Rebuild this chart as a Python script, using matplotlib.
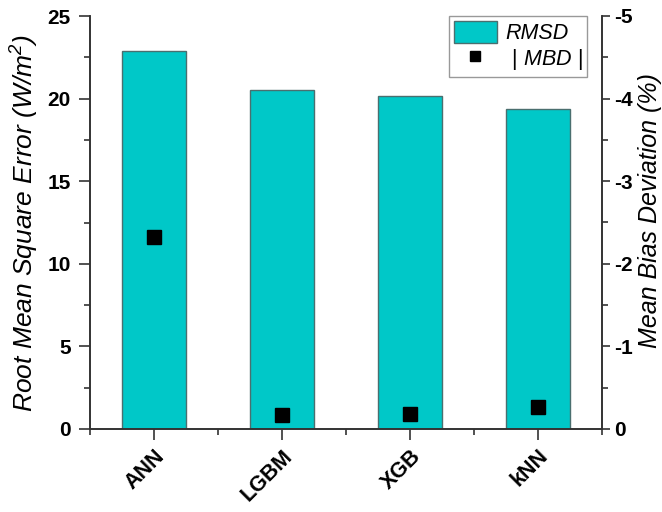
import numpy as np
import matplotlib

matplotlib.use("Agg")
import matplotlib.pyplot as plt
import matplotlib.patches as mpatches
import matplotlib.lines as mlines
from matplotlib.ticker import MultipleLocator

plt.rcParams.update(
    {
        "font.family": ["Liberation Sans", "DejaVu Sans"],
        "axes.unicode_minus": False,
        "axes.linewidth": 1.2,
        "mathtext.fontset": "custom",
        "mathtext.rm": "Liberation Sans",
        "mathtext.it": "Liberation Sans:italic",
    }
)

# ---------------------------------------------------------------------------
# Data
# ---------------------------------------------------------------------------
models = ["ANN", "LGBM", "XGB", "kNN"]
rmsd = [22.87, 20.5, 20.17, 19.37]  # W/m^2
mbd = [-2.33, -0.17, -0.18, -0.27]  # %

BAR_COLOR = "#00c8c8"
BAR_EDGE = "#4a6f6f"
AXIS_COLOR = "#333333"

fig = plt.figure(figsize=(6.62, 5.12), dpi=100)
ax = fig.add_axes([90 / 662, 1 - 429 / 512, 512 / 662, 413 / 512])
ax2 = ax.twinx()

x = np.arange(len(models))
ax.bar(x, rmsd, width=0.5, color=BAR_COLOR, edgecolor=BAR_EDGE, linewidth=1.0, zorder=2)
ax2.plot(x, mbd, ls="none", marker="s", ms=10.5, color="black", zorder=5)

# left axis
ax.set_xlim(-0.5, 3.5)
ax.set_ylim(0, 25)
ax.yaxis.set_major_locator(MultipleLocator(5))
ax.yaxis.set_minor_locator(MultipleLocator(2.5))
ax.set_xticks(x)
ax.set_xticklabels(models, rotation=45, ha="right", rotation_mode="anchor",
                   fontsize=15.5, fontweight="bold")
ax.xaxis.set_minor_locator(MultipleLocator(0.5))
ax.tick_params(axis="x", which="major", direction="out", length=8, width=1.2,
               colors=AXIS_COLOR, labelcolor="black", pad=4)
ax.tick_params(axis="x", which="minor", direction="out", length=4, width=1.2,
               colors=AXIS_COLOR)
ax.tick_params(axis="y", which="major", direction="out", length=8, width=1.2,
               colors=AXIS_COLOR, labelcolor="black", labelsize=15, pad=6)
ax.tick_params(axis="y", which="minor", direction="out", length=4, width=1.2,
               colors=AXIS_COLOR)
for lab in ax.get_yticklabels():
    lab.set_fontweight("bold")
ax.set_ylabel(r"Root Mean Square Error (W/m$^{\mathregular{2}}$)", fontsize=19,
              fontstyle="italic", va="center")
ax.yaxis.set_label_coords(-0.127, 0.5)

# right axis (inverted)
ax2.set_ylim(0, -5)
ax2.yaxis.set_major_locator(MultipleLocator(1))
ax2.yaxis.set_minor_locator(MultipleLocator(0.5))
ax2.tick_params(axis="y", which="major", direction="out", length=6, width=1.2,
                colors=AXIS_COLOR, labelcolor="black", labelsize=15, pad=3)
ax2.tick_params(axis="y", which="minor", direction="out", length=4, width=1.2,
                colors=AXIS_COLOR)
for lab in ax2.get_yticklabels():
    lab.set_fontweight("bold")
ax2.set_ylabel("Mean Bias Deviation (%)", fontsize=18, fontstyle="italic",
               va="center", rotation=90)
ax2.yaxis.set_label_coords(1.093, 0.53)

for a in (ax, ax2):
    a.spines["top"].set_visible(False)
    for s in ("left", "right", "bottom"):
        a.spines[s].set_color(AXIS_COLOR)

handles = [
    mpatches.Patch(facecolor=BAR_COLOR, edgecolor=BAR_EDGE, label="RMSD"),
    mlines.Line2D([], [], ls="none", marker="s", ms=7, color="black",
                  label=r" $|$ MBD $|$"),
]
leg = ax2.legend(
    handles=handles,
    loc="upper right",
    bbox_to_anchor=(0.971, 1.0),
    borderaxespad=0,
    fancybox=False,
    edgecolor="#999999",
    framealpha=1,
    prop={"size": 15.5, "style": "italic"},
    handlelength=2.0,
    handleheight=1.2,
    handletextpad=0.4,
    labelspacing=0.12,
    borderpad=0.22,
)
leg.get_frame().set_linewidth(1.0)

fig.savefig("out.png", dpi=100)
